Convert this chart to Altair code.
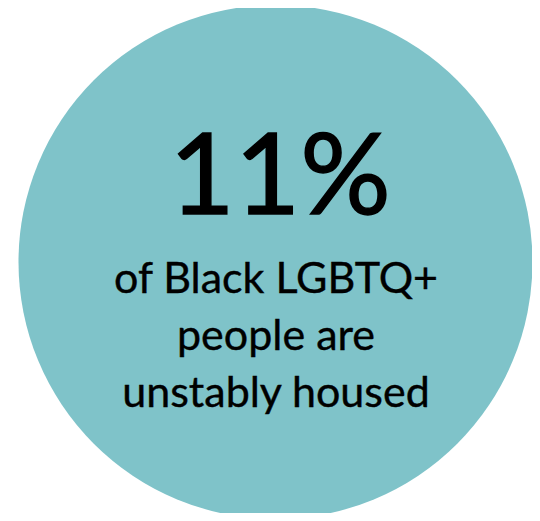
import altair as alt
import pandas as pd

share_pct = [11]
caption_lines = ["of Black LGBTQ+", "people are", "unstably housed"]

circle_df = pd.DataFrame({"share": share_pct})
big_df = pd.DataFrame({"label": [f"{v}%" for v in share_pct]})
cap_df = pd.DataFrame({"line": caption_lines, "idx": list(range(len(caption_lines)))})

W, H = 524, 505

circle = alt.Chart(circle_df).mark_circle(
    color="#7fc3c9", opacity=1, size=514 * 514
).encode(x=alt.value(267.5), y=alt.value(254))

big = alt.Chart(big_df).mark_text(
    font="Lato", fontSize=113, color="#000000", baseline="alphabetic", align="center",
    stroke="#000000", strokeWidth=1.5
).encode(text="label:N", x=alt.value(272), y=alt.value(206))

caption = alt.Chart(cap_df).mark_text(
    font="Lato", fontSize=43, color="#000000", baseline="alphabetic", align="center",
    stroke="#000000", strokeWidth=0.4
).encode(
    text="line:N",
    x=alt.value(268),
    y=alt.Y("idx:Q", scale=alt.Scale(domain=[0, 2], range=[285, 399]), axis=None),
)

chart = alt.layer(circle, big, caption).properties(
    width=W, height=H, padding=0, autosize=alt.AutoSizeParams(type="none")
).configure_view(stroke=None)

chart.save("out.html", embed_options={"renderer": "svg", "actions": False})
